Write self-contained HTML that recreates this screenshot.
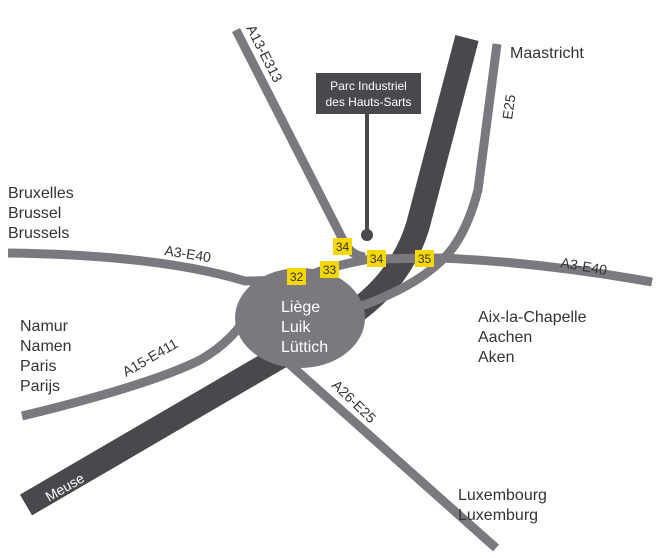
<!DOCTYPE html>
<html><head><meta charset="utf-8"><style>
html,body{margin:0;padding:0;background:#fff;}
svg{display:block;}
.t{font-family:"Liberation Sans",sans-serif;fill:#333;}
</style></head><body>
<svg width="657" height="558" viewBox="0 0 657 558" xmlns="http://www.w3.org/2000/svg">
<g fill="none" stroke-linecap="butt">
  <path d="M467,38 L418,225 Q400,285 340,322 L26,505" stroke="#4a474d" stroke-width="24"/>
  <g stroke="#7b7880" stroke-width="9">
    <path d="M236,30 L342,238 Q350,256 365,257"/>
    <path d="M8,253 Q160,255 245,281 L300,280"/>
    <path d="M300,280 Q320,268 370,259 L440,258 Q540,262 652,282"/>
    <path d="M22,416 Q150,385 200,360 Q235,340 250,310"/>
    <path d="M497,44 L478,190 Q465,240 440,262 Q410,290 350,310"/>
    <path d="M268,345 L496,548"/>
  </g>
  <line x1="367" y1="112" x2="367" y2="234" stroke="#4a474d" stroke-width="4"/>
</g>
<ellipse cx="300" cy="318" rx="65" ry="50" fill="#7b7880"/>
<circle cx="367" cy="235" r="6" fill="#4a474d"/>
<rect x="316" y="73" width="105" height="41" fill="#4a474d"/>
<text x="368.5" y="90" text-anchor="middle" font-family="Liberation Sans,sans-serif" font-size="12" fill="#fff">Parc Industriel</text>
<text x="368.5" y="106" text-anchor="middle" font-family="Liberation Sans,sans-serif" font-size="12" fill="#fff">des Hauts-Sarts</text>
<g font-family="Liberation Sans,sans-serif" font-size="12" fill="#333" text-anchor="middle">
  <rect x="333" y="238" width="19" height="17" fill="#f5d800"/><text x="342.5" y="251">34</text>
  <rect x="367" y="250" width="19" height="17" fill="#f5d800"/><text x="376.5" y="263">34</text>
  <rect x="320" y="261" width="19" height="17" fill="#f5d800"/><text x="329.5" y="274">33</text>
  <rect x="287" y="268" width="19" height="17" fill="#f5d800"/><text x="296.5" y="281">32</text>
  <rect x="415" y="250" width="19" height="17" fill="#f5d800"/><text x="424.5" y="263">35</text>
</g>
<g font-family="Liberation Sans,sans-serif" font-size="16" fill="#fff">
  <text x="281" y="312">Liège</text><text x="281" y="332">Luik</text><text x="281" y="352">Lüttich</text>
</g>
<g class="t" font-size="16">
  <text x="510" y="58">Maastricht</text>
  <text x="8" y="198">Bruxelles</text><text x="8" y="218">Brussel</text><text x="8" y="238">Brussels</text>
  <text x="20" y="331">Namur</text><text x="20" y="351">Namen</text><text x="20" y="371">Paris</text><text x="20" y="391">Parijs</text>
  <text x="478" y="322">Aix-la-Chapelle</text><text x="478" y="342">Aachen</text><text x="478" y="362">Aken</text>
  <text x="458" y="500">Luxembourg</text><text x="458" y="520">Luxemburg</text>
</g>
<g class="t" font-size="14">
  <text transform="translate(246,28) rotate(63)">A13-E313</text>
  <text transform="translate(512,120) rotate(-82)">E25</text>
  <text transform="translate(164,255) rotate(9)">A3-E40</text>
  <text transform="translate(560,267) rotate(10)">A3-E40</text>
  <text transform="translate(126,377) rotate(-30)">A15-E411</text>
  <text transform="translate(331,386) rotate(44)">A26-E25</text>
</g>
<text transform="translate(49,502) rotate(-30)" font-family="Liberation Sans,sans-serif" font-size="14" fill="#fff">Meuse</text>
</svg>
</body></html>
